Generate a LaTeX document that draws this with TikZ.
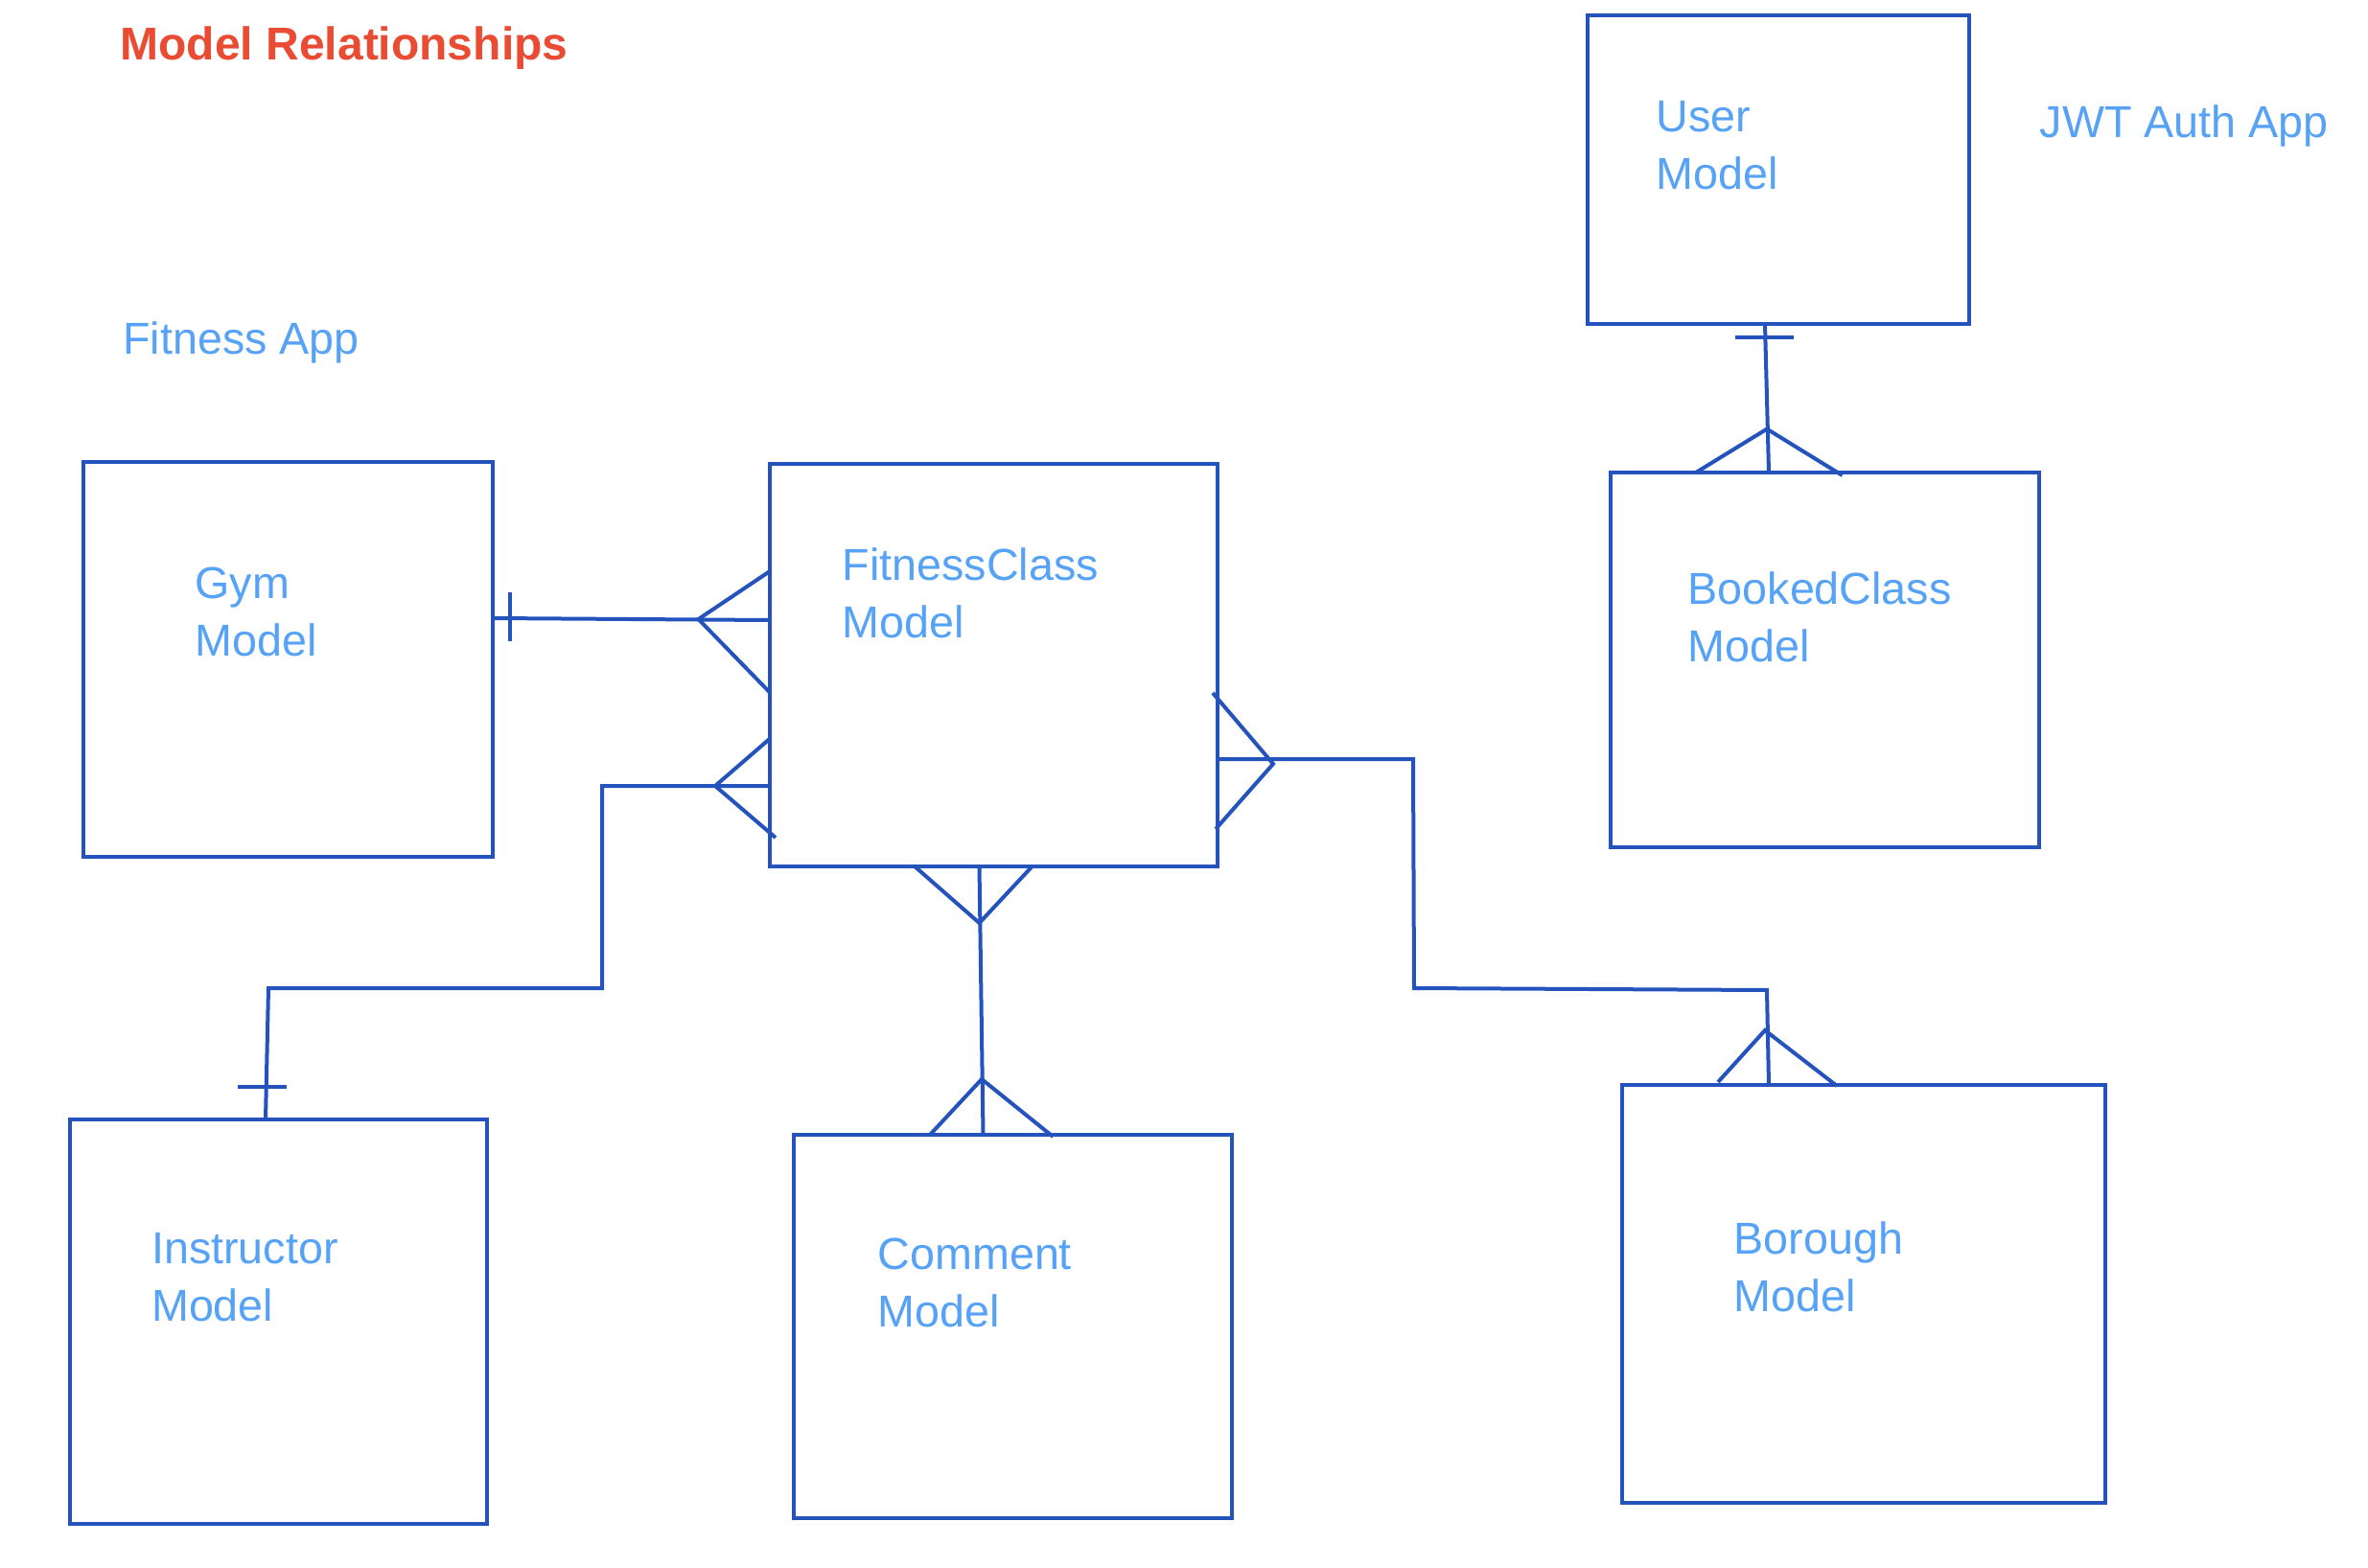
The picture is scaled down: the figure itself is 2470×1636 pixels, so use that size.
\documentclass[tikz,border=0pt]{standalone}
\usepackage{fontspec}
\setmainfont{Liberation Sans}
\definecolor{lineblue}{HTML}{2453BE}
\definecolor{textblue}{HTML}{56A2F7}
\definecolor{titlered}{HTML}{EA4B33}
\begin{document}
\begin{tikzpicture}[x=0.3pt,y=-0.3pt,
  modelbox/.style={draw=lineblue, line width=1.2pt, rectangle, inner sep=0pt, outer sep=0pt},
  modeltext/.style={text=textblue, font=\fontsize{14}{18}\selectfont, align=left, anchor=base west, inner sep=0pt},
  conn/.style={draw=lineblue, line width=1.2pt},
  titletext/.style={text=titlered, font=\bfseries\fontsize{14.4}{17}\selectfont, anchor=base west, inner sep=0pt}]
\useasboundingbox (0,0) rectangle (2470,1636);
\fill[white] (0,0) rectangle (2470,1636);

% boxes
\node[modelbox, minimum width=427*0.3pt, minimum height=412*0.3pt] (gym) at (300.5,688) {};
\node[modelbox, minimum width=467*0.3pt, minimum height=420*0.3pt] (fc) at (1036.5,694) {};
\node[modelbox, minimum width=398*0.3pt, minimum height=322*0.3pt] (user) at (1855,177) {};
\node[modelbox, minimum width=447*0.3pt, minimum height=391*0.3pt] (booked) at (1903.5,688.5) {};
\node[modelbox, minimum width=435*0.3pt, minimum height=422*0.3pt] (instr) at (290.5,1379) {};
\node[modelbox, minimum width=457*0.3pt, minimum height=400*0.3pt] (comment) at (1056.5,1384) {};
\node[modelbox, minimum width=504*0.3pt, minimum height=436*0.3pt] (borough) at (1944,1350) {};

% texts (multi-line nodes are anchored at the baseline of their last line)
\node[titletext] (title) at (125,62.3) {Model Relationships};
\node[modeltext] (fitapp) at (127.6,369.3) {Fitness App};
\node[modeltext] (jwtapp) at (2127,143.5) {JWT Auth App};
\node[modeltext] (gymtext) at (203,684) {Gym\\Model};
\node[modeltext] (fctext) at (878,665) {FitnessClass\\Model};
\node[modeltext] (usertext) at (1727,198) {User\\Model};
\node[modeltext] (bookedtext) at (1760,690) {BookedClass\\Model};
\node[modeltext] (instrtext) at (157.5,1378) {Instructor\\Model};
\node[modeltext] (commenttext) at (915,1384) {Comment\\Model};
\node[modeltext] (boroughtext) at (1808,1368) {Borough\\Model};

% Gym -- FitnessClass
\draw[conn] (gym.east |- 0,645) -- (fc.west |- 0,647);
\draw[conn] (531.5,618) -- (531.5,669);
\draw[conn] (fc.west |- 0,596) -- (728.5,646) -- (fc.west |- 0,722.5);

% Instructor -- FitnessClass
\draw[conn] (fc.west |- 0,820) -- (628,820) -- (628,1031) -- (280,1031) -- (instr.north -| 277,0);
\draw[conn] (248,1134) -- (299,1134);
\draw[conn] (fc.west |- 0,770.7) -- (746,820) -- (809,874);

% FitnessClass -- Comment
\draw[conn] (fc.south -| 1021.5,0) -- (comment.north -| 1025.5,0);
\draw[conn] (953,903) -- (1021.5,963) -- (1076.6,904);
\draw[conn] (970,1184) -- (1024,1126) -- (1098.4,1186);

% User -- BookedClass
\draw[conn] (user.south -| 1841,0) -- (booked.north -| 1845,0);
\draw[conn] (1810,352) -- (1871,352);
\draw[conn] (1769,493) -- (1843,447.6) -- (1921.6,496);

% FitnessClass -- Borough
\draw[conn] (fc.east |- 0,792) -- (1474,792) -- (1475,1031) -- (1843,1033) -- (borough.north -| 1845,0);
\draw[conn] (1265,723) -- (1328,797) -- (1268,865);
\draw[conn] (1792,1129) -- (1841,1075) -- (1916,1133);
\end{tikzpicture}
\end{document}
